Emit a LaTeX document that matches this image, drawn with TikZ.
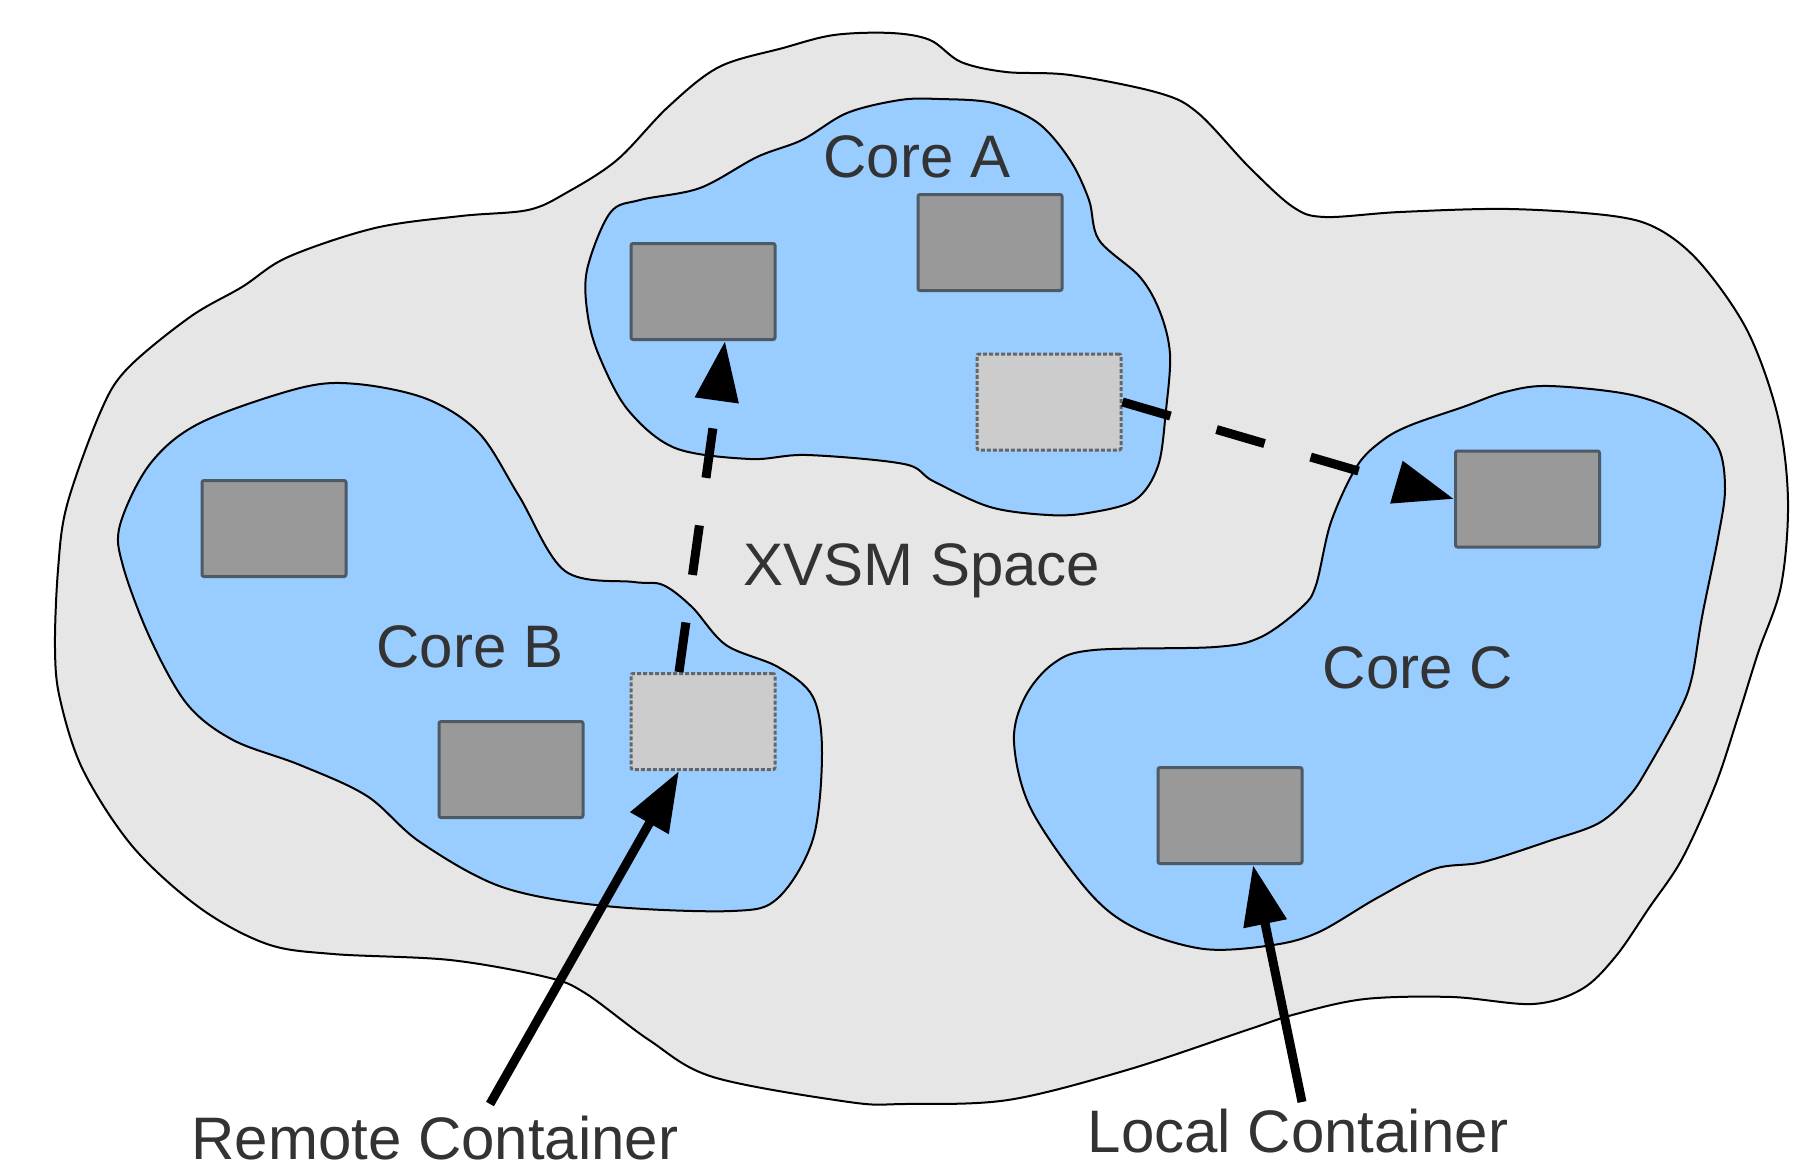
\documentclass[tikz,border=0pt]{standalone}
\usepackage{fontspec}
\setmainfont{Liberation Sans}
\usetikzlibrary{arrows.meta,calc}
\definecolor{spacegrey}{HTML}{E6E6E6}
\definecolor{coreblue}{HTML}{99CCFF}
\definecolor{boxgrey}{HTML}{999999}
\definecolor{boxedge}{HTML}{4D5A64}
\definecolor{remotegrey}{HTML}{CCCCCC}
\definecolor{txt}{HTML}{333333}
\begin{document}
\begin{tikzpicture}[x=1pt,y=-1pt,
  region/.style={draw=black, line width=2pt, line join=round},
  container/.style={rectangle, draw=boxedge, fill=boxgrey, line width=3pt,
    minimum width=144pt, minimum height=96pt, inner sep=0pt, rounded corners=2pt},
  remote/.style={container, fill=remotegrey, draw=black!60, dash pattern=on 4pt off 2pt},
  lbl/.style={inner sep=0pt, anchor=base, text=txt, font=\fontsize{60}{72}\selectfont},
  link/.style={draw=black, line width=9pt, -{Triangle[length=60pt,width=42pt]}},
  dashedlink/.style={link, dash pattern=on 50pt off 48pt}
]
\useasboundingbox (0,0) rectangle (1808,1170);

% outer XVSM space
\draw[region, fill=spacegrey] plot[smooth cycle, tension=0.55] coordinates {
 (58,570) (67,505) (100,413) (127,369) (190,317) (242,287) (288,257) (375,228)
 (461,216) (528,210) (566,193) (617,160) (668,107) (719,67) (783,48) (834,35)
 (891,33) (930,40) (961,62) (1006,72) (1070,75) (1159,93) (1198,113) (1249,167)
 (1293,207) (1325,217) (1400,212) (1509,209) (1613,216) (1660,230) (1702,265)
 (1748,332) (1778,417) (1788,501) (1781,586) (1758,653) (1737,720) (1715,786)
 (1682,859) (1649,908) (1616,956) (1582,989) (1533,1004) (1452,997) (1365,999)
 (1296,1014) (1247,1030) (1127,1070) (1008,1100) (904,1104) (849,1102) (713,1077)
 (649,1040) (585,993) (546,977) (450,960) (333,954) (267,944) (200,908) (133,847)
 (83,770) (60,699) (55,648)};

% Core A
\draw[region, fill=coreblue] plot[smooth cycle, tension=0.55] coordinates {
 (900,100) (939,99) (993,103) (1038,123) (1070,160) (1089,200) (1099,240)
 (1140,277) (1160,312) (1170,354) (1166,410) (1158,466) (1135,500) (1088,513)
 (1048,515) (990,507) (933,481) (904,464) (807,455) (750,459) (675,448)
 (628,410) (600,358) (588,317) (587,270) (610,213) (640,200) (700,188)
 (757,157) (802,140) (847,113)};

% Core B
\draw[region, fill=coreblue] plot[smooth cycle, tension=0.55] coordinates {
 (300,388) (357,384) (427,399) (479,433) (519,496) (565,571) (634,582)
 (663,585) (692,607) (726,645) (778,667) (813,697) (822,753) (813,839)
 (778,898) (732,911) (605,906) (502,887) (420,842) (367,796) (300,765)
 (233,740) (187,704) (150,638) (123,566) (120,525) (150,464) (200,423)};

% Core C
\draw[region, fill=coreblue] plot[smooth cycle, tension=0.55] coordinates {
 (1549,386) (1632,395) (1688,417) (1718,447) (1725,489) (1718,538) (1702,617)
 (1692,677) (1680,710) (1649,766) (1630,795) (1599,823) (1549,841) (1483,862)
 (1434,869) (1377,898) (1319,932) (1273,945) (1204,949) (1135,928) (1088,891)
 (1031,809) (1014,742) (1025,697) (1054,663) (1094,650) (1215,647) (1261,637)
 (1302,607) (1316,585) (1331,522) (1357,466) (1383,440) (1411,425) (1463,407)
 (1505,392)};

% containers
\node[container] (a1) at (703,291.5) {};
\node[container] (a2) at (990,242.5) {};
\node[remote]    (a3) at (1049,402) {};
\node[container] (b1) at (274,528.5) {};
\node[container] (b2) at (511,769.5) {};
\node[remote]    (b3) at (703,721.5) {};
\node[container] (c1) at (1527.5,499) {};
\node[container] (c2) at (1230,815.5) {};

% labels
\node[lbl] (coreA) at (917,177) {Core A};
\node[lbl] (coreB) at (470,667) {Core B};
\node[lbl] (coreC) at (1418,688) {Core C};
\node[lbl] (xvsm) at (922,585) {XVSM Space};
\node[lbl] (rc) at (435,1159) {Remote Container};
\node[lbl] (lc) at (1298,1152) {Local Container};

\coordinate (rtail) at (490,1104);
\coordinate (ltail) at (1302,1102);

% connectors
\draw[dashedlink] ([xshift=-24pt]b3.north) -- ([xshift=22pt]a1.south);
\draw[dashedlink] (a3.east) -- (c1.west);
\draw[link] (rtail) -- ([xshift=-24pt]b3.south);
\draw[link] (ltail) -- ([xshift=23pt]c2.south);
\end{tikzpicture}
\end{document}
